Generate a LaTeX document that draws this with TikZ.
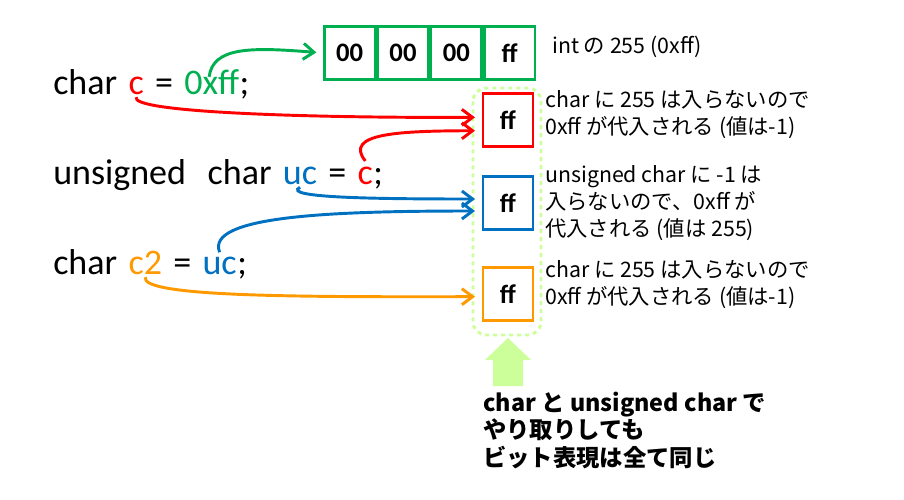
\documentclass[tikz,border=0pt]{standalone}
\usepackage{fontspec}
\setmainfont{Carlito}
\newfontfamily\jp{Noto Sans CJK JP}
\usetikzlibrary{arrows.meta}
\definecolor{gr}{RGB}{0,176,80}
\definecolor{rd}{RGB}{255,0,0}
\definecolor{bl}{RGB}{0,112,192}
\definecolor{og}{RGB}{255,153,0}
\definecolor{lg}{RGB}{204,255,153}
\newcommand{\codesp}{\kern0.3em}
\begin{document}
\begin{tikzpicture}[x=0.75pt,y=-0.75pt,
  code/.style={inner sep=0,anchor=base west,font=\fontsize{27}{32}\selectfont},
  cell/.style={draw=gr,line width=2pt,minimum width=38pt,minimum height=40pt,inner sep=0,font=\fontsize{20}{24}\selectfont\bfseries},
  fbox/.style={draw=#1,line width=2pt,minimum width=37.5pt,minimum height=40pt,inner sep=0,font=\fontsize{20}{24}\selectfont\bfseries},
  note/.style={inner sep=0,anchor=north west,align=left,font=\jp\fontsize{16}{20.5}\selectfont},
  conn/.style={line width=2.2pt,shorten >=5pt,-{Straight Barb[length=8pt,width=12pt,line width=2.2pt]},#1}]
\useasboundingbox (0,0) rectangle (904,500);
% int box
\node[cell,anchor=north west] (b0) at (323,25) {00};
\node[cell,anchor=west] (b1) at (b0.east) {00};
\node[cell,anchor=west] (b2) at (b1.east) {00};
\node[cell,anchor=west] (b3) at (b2.east) {ff};
\node[inner sep=0,anchor=west,font=\jp\fontsize{16}{16}\selectfont] (t0) at (552,47) {int の 255 (0xff)};
% code lines
\node[code] (a1) at (53,94) {char\codesp};
\node[code,rd] (c1) at (a1.base east) {c};
\node[code] (a2) at (c1.base east) {\codesp=\codesp};
\node[code,gr] (h1) at (a2.base east) {0xff};
\node[code] (a3) at (h1.base east) {;};
\node[code] (u1) at (53,184) {unsigned\codesp\codesp char\codesp};
\node[code,bl] (uc1) at (u1.base east) {uc};
\node[code] (u2) at (uc1.base east) {\codesp=\codesp};
\node[code,rd] (c2) at (u2.base east) {c};
\node[code] (u3) at (c2.base east) {;};
\node[code] (d1) at (53,274) {char\codesp};
\node[code,og] (cc2) at (d1.base east) {c2};
\node[code] (d2) at (cc2.base east) {\codesp=\codesp};
\node[code,bl] (uc2) at (d2.base east) {uc};
\node[code] (d3) at (uc2.base east) {;};
% dashed group
\draw[lg,line width=2.2pt,dashed,rounded corners=10pt] (473,88) rectangle (541,335);
\node[fbox=rd] (f1) at (508,120) {ff};
\node[fbox=bl] (f2) at (508,203) {ff};
\node[fbox=og] (f3) at (508,294) {ff};
% notes
\node[note] (n1) at (545,90) {char に 255 は入らないので\\0xff が代入される (値は-1)};
\node[note] (n2) at (545,165) {unsigned char に -1 は\\入らないので、0xff が\\代入される (値は 255)};
\node[note] (n3) at (545,260) {char に 255 は入らないので\\0xff が代入される (値は-1)};
% up arrow
\fill[lg] (508,338) -- (531,360) -- (523,360) -- (523,386) -- (493,386) -- (493,360) -- (485,360) -- cycle;
\node[inner sep=0,anchor=north west,align=left,font=\jp\bfseries\fontsize{17.5}{20.5}\selectfont] (bt) at (483,392) {char と unsigned char で\\やり取りしても\\ビット表現は全て同じ};
% connectors
\coordinate (g0) at ([xshift=-2pt,yshift=-6pt]h1.north);
\draw[conn=gr] (g0) .. controls (213,47) and (250,47) .. (b0.west);
\draw[conn=rd] ([yshift=-2pt]c1.south) .. controls (130,112) and (300,118) .. ([yshift=2pt]f1.west);
\draw[conn=rd] ([yshift=4pt]c2.north) .. controls (343,133) and (400,131) .. ([yshift=-8pt]f1.west);
\draw[conn=bl] ([yshift=-2pt]uc1.south) .. controls (280,198) and (380,199) .. ([yshift=3pt]f2.west);
\draw[conn=bl] ([yshift=3pt]uc2.north) .. controls (205,216) and (330,211) .. ([yshift=-6pt]f2.west);
\draw[conn=og] ([yshift=-2pt]cc2.south) .. controls (140,297) and (300,297) .. ([yshift=-2pt]f3.west);
\end{tikzpicture}
\end{document}
